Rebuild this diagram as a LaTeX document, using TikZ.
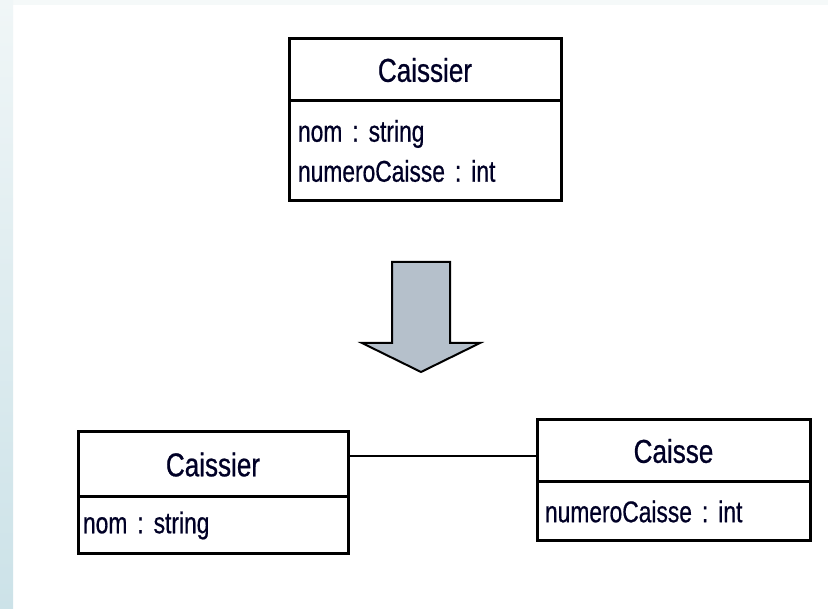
\documentclass[tikz,border=0pt]{standalone}
\usepackage{fontspec}
\setmainfont{Liberation Sans}[FakeStretch=0.79, FakeBold=0.6]
\newfontfamily\headfont{Liberation Sans}[FakeStretch=0.79, FakeBold=0.7]
\newfontfamily\attrfont{Liberation Sans}[FakeStretch=0.76, FakeBold=0.6]
\begin{document}
\frenchspacing
\begin{tikzpicture}[x=1pt,y=-1pt,
  classhead/.style={draw, line width=3pt, inner sep=0pt, text=black!85!blue,
    font=\headfont\fontsize{33}{40}\selectfont},
  classbody/.style={draw, line width=3pt, inner sep=0pt, text=black!85!blue,
    font=\attrfont\fontsize{30}{40}\selectfont, align=left},
  assoc/.style={line width=2pt},
  bigarrow/.style={fill=arrowfill, draw=black, line width=2pt, line join=miter}]
\definecolor{arrowfill}{HTML}{B5C0CB}
\definecolor{stripTop}{HTML}{F0F6F7}
\definecolor{stripBot}{HTML}{CCE2E8}
% page and side strip
\fill[white] (0,0) rectangle (828,609);
\fill[stripTop!70!white] (0,0) rectangle (828,5);
\shade[top color=stripTop, bottom color=stripBot] (0,0) rectangle (13,609);
\useasboundingbox (0,0) rectangle (828,609);

% class before refactoring
\node[classhead, minimum width=272pt, minimum height=62pt] (c1h) at (425,70) {Caissier};
\node[classbody, minimum width=272pt, minimum height=100pt, text width=254pt] (c1b) at (425,151) {nom : string\\numeroCaisse : int};

% transformation arrow
\draw[bigarrow] (392,262) -- (450,262) -- (450,343) -- (480,343) -- (421,372) -- (362,343) -- (392,343) -- cycle;

% classes after refactoring
\node[classhead, minimum width=270pt, minimum height=65pt] (c2h) at (213,464.5) {Caissier};
\node[classbody, minimum width=270pt, minimum height=57pt, text width=260pt] (c2b) at (213,525.5) {nom : string};
\node[classhead, minimum width=273pt, minimum height=62pt] (c3h) at (673.5,451) {Caisse};
\node[classbody, minimum width=273pt, minimum height=59pt, text width=257pt] (c3b) at (673.5,511.5) {numeroCaisse : int};

% association
\draw[assoc] ([yshift=8.5pt]c2h.east) -- ([yshift=-5pt]c3h.west);
\end{tikzpicture}
\end{document}
